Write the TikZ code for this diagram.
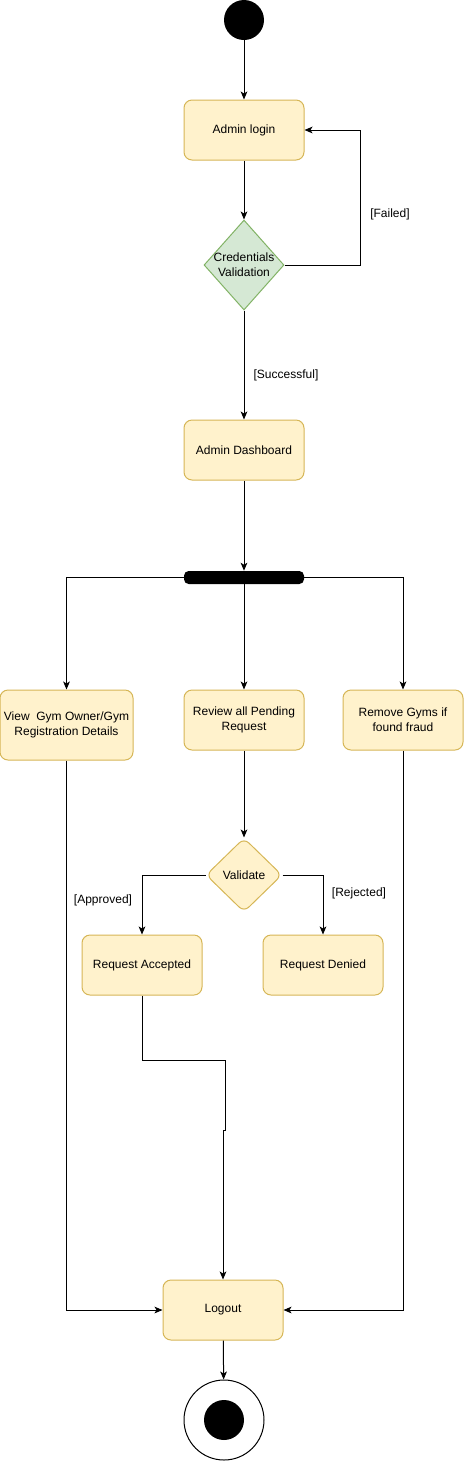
\documentclass[tikz,border=0pt]{standalone}
\usepackage{fontspec}
\setmainfont{Liberation Sans}
\usetikzlibrary{arrows.meta, positioning, shapes.geometric}
\definecolor{actfill}{HTML}{FFF2CC}
\definecolor{actline}{HTML}{D6B656}
\definecolor{decfill}{HTML}{D5E8D4}
\definecolor{decline}{HTML}{82B366}
\tikzset{
  act/.style   = {draw=actline, fill=actfill, rounded corners=6pt, align=center,
                  font=\fontsize{9}{11}\selectfont, minimum width=90pt, minimum height=45pt,
                  inner sep=2pt, line width=0.75pt},
  dec/.style   = {diamond, draw=decline, fill=decfill, inner sep=0pt, line width=0.75pt,
                  minimum width=60pt, minimum height=67.5pt},
  val/.style   = {diamond, draw=actline, fill=actfill, inner sep=0pt, line width=0.75pt,
                  rounded corners=5pt, minimum width=57pt, minimum height=55.5pt,
                  font=\fontsize{9}{11}\selectfont},
  txt/.style   = {align=center, font=\fontsize{9}{11}\selectfont, inner sep=0pt},
  glab/.style  = {font=\fontsize{9}{11}\selectfont, inner sep=1pt},
  ini/.style   = {circle, fill=black, minimum size=30pt, inner sep=0pt},
  fin/.style   = {circle, draw=black, fill=white, minimum size=60pt, inner sep=0pt,
                  line width=0.75pt},
  bar/.style   = {rectangle, fill=black, rounded corners=3.5pt, minimum width=90pt,
                  minimum height=9.75pt, inner sep=0pt},
  fl/.style    = {-{Stealth[length=6pt, width=5pt, inset=1.5pt]}, line width=0.75pt, draw=black},
}

\begin{document}
\begin{tikzpicture}[x=0.75pt, y=-0.75pt]
\useasboundingbox (0,0) rectangle (464,1461);
% --- login and validation ------------------------------------------------------------
\node[ini] (start) at (244,20) {};
\node[act] (login) at (244,130) {Admin login};
\node[dec] (cred) at (244,265) {};
\node[txt] (credtxt) at (cred.center) {Credentials\\Validation};
\node[act] (dash) at (244,450) {Admin Dashboard};
\coordinate (failc) at (360,265);

\draw[fl] (start) -- (login);
\draw[fl] (login) -- (cred);
\draw[fl] (cred.east) -- (failc) |- (login.east);
\draw[fl] (cred) -- (dash);
\node[glab] (lfail) at (390,214) {[Failed]};
\node[glab] (lsucc) at (286,375) {[Successful]};

% --- fork into the three admin tasks ---------------------------------------------------
\node[bar] (fork) at (244,577.5) {};
\node[act, minimum width=99.75pt, minimum height=52.5pt] (view) at (66.5,725)
  {View\ \ Gym Owner/Gym\\Registration Details};
\node[act] (review) at (244,720) {Review all Pending\\Request};
\node[act] (remove) at (403,720) {Remove Gyms if\\found fraud};

\draw[fl] (dash) -- (fork);
\draw[fl] (fork.west) -| (view.north);
\draw[fl] (fork) -- (review);
\draw[fl] (fork.east) -| (remove.north);

% --- pending request decision ----------------------------------------------------------
\node[val] (valid) at (244,875) {Validate};
\node[act] (acc) at (142,965) {Request Accepted};
\node[act] (deny) at (323,965) {Request Denied};

\draw[fl] (review) -- (valid);
\draw[fl] (valid.west) -| (acc.north);
\draw[fl] (valid.east) -| (deny.north);
\node[glab] (lappr) at (103,900) {[Approved]};
\node[glab] (lrej) at (359,893) {[Rejected]};

% --- logout and end --------------------------------------------------------------------
\node[act] (logout) at (223,1310) {Logout};
\node[fin] (finish) at (224,1420) {};
\node[ini] (findot) at (finish.center) {};
\coordinate (j1) at (225,1060);
\coordinate (j2) at (225,1130);
\coordinate (j3) at (223,1130);

\draw[fl] (acc.south) |- (j1) -- (j2) -- (j3) -- (logout.north);
\draw[fl] (view.south) |- (logout.west);
\draw[fl] (remove.south) |- (logout.east);
\draw[fl] (logout) -- (finish);
\end{tikzpicture}
\end{document}
